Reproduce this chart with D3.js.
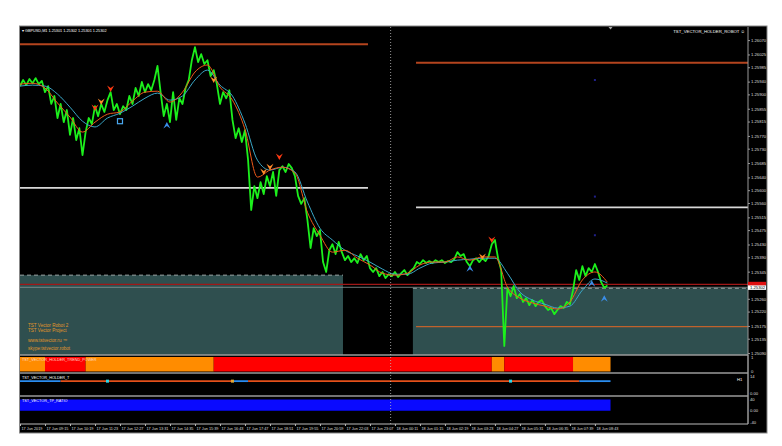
<!DOCTYPE html>
<html><head><meta charset="utf-8">
<script src="https://cdn.jsdelivr.net/npm/d3@7"></script>
<style>
body{margin:0;background:#fff}
svg{display:block}
text{font-family:"Liberation Sans",Arial,sans-serif}
</style>
</head><body>
<svg id="c" width="782" height="446"></svg>
<script>
// ---------------- DATA ----------------
const symbolHeader = "GBPUSD,M1  1.25301 1.25302 1.25301 1.25302";
const robotName = "TST_VECTOR_HOLDER_ROBOT \u263A";
const startTime = "2019-06-17T08:11";
const endTime = "2019-06-18T15:15";
const sampleMinutes = 8;
const closes = [
1.25926,1.25945,1.25929,1.25948,1.25935,1.25951,1.25932,1.25942,1.25907,1.25926,
1.25870,1.25895,1.25826,1.25870,1.25813,1.25851,1.25773,1.25826,1.25757,1.25794,
1.25710,1.25782,1.25826,1.25807,1.25863,1.25832,1.25870,1.25845,1.25882,1.25907,
1.25851,1.25870,1.25838,1.25863,1.25851,1.25895,1.25870,1.25920,1.25895,1.25939,
1.25907,1.25932,1.25913,1.25945,1.25989,1.25907,1.25832,1.25870,1.25813,1.25907,
1.25820,1.25888,1.25870,1.25920,1.25945,1.26007,1.26048,1.26001,1.26026,1.25995,
1.26007,1.25957,1.25976,1.25932,1.25870,1.25907,1.25888,1.25913,1.25820,1.25763,
1.25794,1.25751,1.25788,1.25694,1.25538,1.25613,1.25575,1.25625,1.25588,1.25644,
1.25613,1.25657,1.25582,1.25663,1.25675,1.25657,1.25682,1.25669,1.25644,1.25582,
1.25557,1.25575,1.25506,1.25419,1.25481,1.25456,1.25475,1.25375,1.25344,1.25412,
1.25431,1.25400,1.25438,1.25406,1.25381,1.25394,1.25375,1.25387,1.25372,1.25400,
1.25381,1.25394,1.25356,1.25344,1.25356,1.25331,1.25344,1.25325,1.25337,1.25331,
1.25344,1.25328,1.25340,1.25350,1.25334,1.25347,1.25356,1.25375,1.25369,1.25381,
1.25372,1.25378,1.25372,1.25381,1.25375,1.25381,1.25372,1.25378,1.25375,1.25384,
1.25406,1.25394,1.25400,1.25375,1.25362,1.25381,1.25387,1.25375,1.25387,1.25378,
1.25394,1.25431,1.25444,1.25387,1.25350,1.25112,1.25294,1.25268,1.25300,1.25262,
1.25275,1.25250,1.25262,1.25240,1.25256,1.25237,1.25250,1.25256,1.25237,1.25225,
1.25231,1.25212,1.25225,1.25237,1.25231,1.25250,1.25243,1.25287,1.25350,1.25319,
1.25362,1.25331,1.25356,1.25344,1.25369,1.25344,1.25312,1.25294,1.25302
];
const maMinutes = 32;
const maFast = [
1.25932,1.25935,1.25920,1.25873,1.25829,1.25782,1.25813,1.25838,1.25845,1.25879,
1.25907,1.25910,1.25876,1.25907,1.25970,1.25992,1.25923,1.25882,1.25791,1.25641,
1.25663,1.25672,1.25654,1.25531,1.25459,1.25406,1.25412,1.25387,1.25366,1.25340,
1.25334,1.25340,1.25366,1.25375,1.25375,1.25391,1.25381,1.25391,1.25391,1.25297,
1.25262,1.25247,1.25237,1.25228,1.25250,1.25319,1.25344,1.25312
];
const maSlow = [
1.25926,1.25929,1.25926,1.25901,1.25860,1.25816,1.25798,1.25826,1.25841,1.25863,
1.25888,1.25904,1.25882,1.25895,1.25945,1.25976,1.25929,1.25895,1.25810,1.25694,
1.25663,1.25672,1.25657,1.25563,1.25481,1.25444,1.25412,1.25394,1.25375,1.25353,
1.25337,1.25337,1.25356,1.25372,1.25375,1.25381,1.25384,1.25387,1.25387,1.25340,
1.25281,1.25256,1.25243,1.25231,1.25237,1.25287,1.25322,1.25309
];
const sellIdx = [24, 26, 29, 62, 78, 80, 83, 148, 151];
const sellPrice = [1.25857, 1.25876, 1.25917, 1.25945, 1.25657, 1.25672, 1.25704, 1.25391, 1.25444];
const sellStrong = [1, 0, 1, 0, 0, 0, 1, 0, 1];
const buyIdx = [47, 144, 183, 187];
const buyPrice = [1.25804, 1.25356, 1.25309, 1.25262];
const boxIdx = [32];
const boxPrice = [1.25816];
const dotIdx = [184, 184, 184];
const dotPrice = [1.25945, 1.25580, 1.25459];

const levelPrice = [1.26057, 1.25999, 1.25607, 1.25546, 1.25173];
const levelFrom = ["2019-06-17T08:11","2019-06-18T01:05","2019-06-17T08:11","2019-06-18T01:05","2019-06-18T01:05"];
const levelTo   = ["2019-06-17T23:02","2019-06-18T15:15","2019-06-17T23:02","2019-06-18T15:15","2019-06-18T15:15"];
const levelType = ["res","res","mid","mid","sup"];
const zoneTop  = [1.25334, 1.25293];
const zoneFrom = ["2019-06-17T08:11","2019-06-18T00:57"];
const zoneTo   = ["2019-06-17T21:58","2019-06-18T15:15"];
const askLine = 1.25305;
const bidLine = 1.25296;
const bidPrice = 1.25302;
const daySeparator = "2019-06-18T00:00";

const yTicks = [1.26070,1.26025,1.25985,1.25940,1.25900,1.25855,1.25815,1.25770,1.25730,1.25685,
1.25640,1.25600,1.25560,1.25515,1.25475,1.25430,1.25390,1.25345,1.25260,1.25220,1.25175,1.25135,1.25090];
const xTickTimes = ["2019-06-17T08:11","2019-06-17T09:15","2019-06-17T10:19","2019-06-17T11:23","2019-06-17T12:27",
"2019-06-17T13:31","2019-06-17T14:35","2019-06-17T15:39","2019-06-17T16:43","2019-06-17T17:47","2019-06-17T18:51",
"2019-06-17T19:55","2019-06-17T20:59","2019-06-17T22:03","2019-06-17T23:07","2019-06-18T00:11","2019-06-18T01:15",
"2019-06-18T02:19","2019-06-18T03:23","2019-06-18T04:27","2019-06-18T05:31","2019-06-18T06:35","2019-06-18T07:39","2019-06-18T08:43"];
const xTickLabels = ["17 Jun 2019","17 Jun 09:15","17 Jun 10:19","17 Jun 11:23","17 Jun 12:27","17 Jun 13:31",
"17 Jun 14:35","17 Jun 15:39","17 Jun 16:43","17 Jun 17:47","17 Jun 18:51","17 Jun 19:55","17 Jun 20:59",
"17 Jun 22:03","17 Jun 23:07","18 Jun 00:11","18 Jun 01:15","18 Jun 02:19","18 Jun 03:23","18 Jun 04:27",
"18 Jun 05:31","18 Jun 06:35","18 Jun 07:39","18 Jun 08:43"];
const infoLines = ["TST Vector Robot 2", "TST Vector Project", "www.tstvector.ru \u2122", "skype:tstvector.robot"];

// indicator panels
const trendName = "TST_VECTOR_HOLDER_TREND_POWER";
const trendBounds = [0, 8, 21, 62, 151, 155, 177, 189];
const trendState  = ["up","down","up","down","up","down","up"];
const trendValue = 1;
const trendTicks = [1, 0];
const holderName = "TST_VECTOR_HOLDER_T";
const holderBounds = [0, 13, 68, 73, 179, 189];
const holderState  = ["buy","sell","buy","sell","buy"];
const holderValue = 10;
const holderMarkIdx = [28, 68, 157];
const holderMarkType = ["buy","hold","buy"];
const holderTicks = ["14", "0.00"];
const holderTf = "H1";
const ratioName = "TST_VECTOR_TP_RATIO";
const ratioValue = 40;
const ratioTicks = [40, 0, -40];

// ---------------- DRAW ----------------
const svg = d3.select("#c");
const parse = s => new Date(s);
const t0 = parse(startTime);
const tAt = i => new Date(t0.getTime() + i * sampleMinutes * 60000);
const tMa = j => new Date(t0.getTime() + j * maMinutes * 60000);

const X0 = 20, X1 = 748, AX1 = 767;
const P = {top: 27, main: 355, p1: 373, p2: 396, p3: 424, bottom: 433};

const x = d3.scaleTime().domain([t0, parse(endTime)]).range([X0, X1]);
const y = d3.scaleLinear().domain([1.25084, 1.26111]).range([P.main, P.top]);
const yTrend = d3.scaleLinear().domain([0, 1]).range([371.5, 357]);
const yHold = d3.scaleLinear().domain([0, 14]).range([394, 376]);
const yRatio = d3.scaleLinear().domain([-40, 40]).range([422, 399.5]);

const fs = 4.2;

svg.append("rect").attr("x", 19.5).attr("y", 26).attr("width", AX1 - 19.5).attr("height", P.bottom - 26)
  .attr("fill", "#000").attr("stroke", "#888").attr("stroke-width", 1);

const main = svg.append("g");
main.append("clipPath").attr("id","mc").append("rect").attr("x",X0).attr("y",P.top).attr("width",X1-X0).attr("height",P.main-P.top);
const mg = main.append("g").attr("clip-path","url(#mc)");

// zones
mg.selectAll("rect.zone").data(zoneTop).join("rect").attr("class","zone")
  .attr("x",(d,i)=>x(parse(zoneFrom[i]))).attr("width",(d,i)=>x(parse(zoneTo[i]))-x(parse(zoneFrom[i])))
  .attr("y",d=>y(d)).attr("height",d=>P.main-y(d)).attr("fill","#2f4f4f");
mg.selectAll("line.ztop").data(zoneTop).join("line")
  .attr("x1",(d,i)=>x(parse(zoneFrom[i]))).attr("x2",(d,i)=>x(parse(zoneTo[i])))
  .attr("y1",d=>y(d)).attr("y2",d=>y(d)).attr("stroke","#9aa6a6").attr("stroke-width",1).attr("stroke-dasharray","4,3");

// levels
const levelStyle = {res:"#b4441e", mid:"#d8d8d8", sup:"#c0622c"};
mg.selectAll("line.lvl").data(levelPrice).join("line")
  .attr("x1",(d,i)=>x(parse(levelFrom[i]))).attr("x2",(d,i)=>x(parse(levelTo[i])))
  .attr("y1",d=>y(d)).attr("y2",d=>y(d))
  .attr("stroke",(d,i)=>levelStyle[levelType[i]]).attr("stroke-width",(d,i)=>levelType[i]==="sup"?1.3:1.8);

// ask / bid
mg.append("line").attr("x1",X0).attr("x2",X1).attr("y1",y(askLine)).attr("y2",y(askLine)).attr("stroke","#a01818").attr("stroke-width",1.4);
mg.append("line").attr("x1",X0).attr("x2",X1).attr("y1",y(bidLine)).attr("y2",y(bidLine)).attr("stroke","#8a9898").attr("stroke-width",0.8);

// info text
mg.selectAll("text.info").data(infoLines).join("text")
  .attr("x",28).attr("y",(d,i)=>[326.5,331.8,341.5,350][i]).attr("fill","#e0962a")
  .attr("font-size",4.6).attr("font-family","'Liberation Serif',serif").text(d=>d);

// price line
mg.append("path").datum(closes)
  .attr("d", d3.line().x((d,i)=>x(tAt(i))).y(d=>y(d)))
  .attr("fill","none").attr("stroke","#1cf01c").attr("stroke-width",1.8).attr("stroke-linejoin","round");
// MAs
mg.append("path").datum(maSlow).attr("d", d3.line().curve(d3.curveMonotoneX).x((d,j)=>x(tMa(j))).y(d=>y(d)))
  .attr("fill","none").attr("stroke","#3aa8c8").attr("stroke-width",1);
mg.append("path").datum(maFast).attr("d", d3.line().curve(d3.curveMonotoneX).x((d,j)=>x(tMa(j))).y(d=>y(d)))
  .attr("fill","none").attr("stroke","#f05a1a").attr("stroke-width",1);

// signals
mg.selectAll("path.sell").data(sellPrice).join("path")
  .attr("transform",(d,i)=>`translate(${x(tAt(sellIdx[i]))},${y(d)})`)
  .attr("d","M-3.5,-3.5 L0,3 L3.5,-3.5 L0,-1 Z")
  .attr("fill",(d,i)=>sellStrong[i]?"#ff3a12":"#ff8a2a");
mg.selectAll("path.buy").data(buyPrice).join("path")
  .attr("transform",(d,i)=>`translate(${x(tAt(buyIdx[i]))},${y(d)})`)
  .attr("d","M-3.5,3.5 L0,-3 L3.5,3.5 L0,1 Z").attr("fill","#3a8ee8");
mg.selectAll("rect.box").data(boxPrice).join("rect")
  .attr("x",(d,i)=>x(tAt(boxIdx[i]))-2.5).attr("y",d=>y(d)-2.5).attr("width",5).attr("height",5)
  .attr("fill","none").attr("stroke","#4aa8f0").attr("stroke-width",1.2);
mg.selectAll("rect.dot").data(dotPrice).join("rect")
  .attr("x",(d,i)=>x(tAt(dotIdx[i]))-1).attr("y",d=>y(d)-1).attr("width",2).attr("height",2).attr("fill","#20208a");

// header texts
svg.append("text").attr("x",22).attr("y",31.5).attr("fill","#fff").attr("font-size",3.8).text("\u25BE " + symbolHeader);
svg.append("text").attr("x",745).attr("y",33).attr("text-anchor","end").attr("fill","#fff").attr("font-size",4.3).text(robotName);
svg.append("path").attr("d",`M${x(tAt(189))-2},27 L${x(tAt(189))+2},27 L${x(tAt(189))},29.5 Z`).attr("fill","#aaa");

// main y axis
const ya = svg.append("g").attr("transform",`translate(${X1},0)`)
  .call(d3.axisRight(y).tickValues(yTicks).tickFormat(d3.format(".5f")).tickSize(2));
ya.select(".domain").attr("stroke","#999");
ya.selectAll("line").attr("stroke","#999");
ya.selectAll("text").attr("fill","#ddd").attr("font-size",fs).attr("x",3);
ya.select(".domain").attr("d",`M0,${P.top}V${P.p3}`);

// price labels
svg.append("rect").attr("x",X1).attr("y",y(askLine)-2.6).attr("width",18).attr("height",4).attr("fill","#e01010");
svg.append("rect").attr("x",X1).attr("y",y(bidPrice)).attr("width",18).attr("height",4.5).attr("fill","#fff");
svg.append("text").attr("x",X1+2).attr("y",y(bidPrice)+3.8).attr("fill","#000").attr("font-size",fs).text(d3.format(".5f")(bidPrice));

// panel separators
[P.main, P.p1, P.p2].forEach(v=>{
  svg.append("line").attr("x1",X0).attr("x2",X1).attr("y1",v).attr("y2",v).attr("stroke","#9a9a9a").attr("stroke-width",1.5);
});
svg.append("line").attr("x1",X0).attr("x2",X1).attr("y1",P.p3).attr("y2",P.p3).attr("stroke","#bbb").attr("stroke-width",1);

// trend power panel
const trendColor = {up:"#ff8c00", down:"#ff0000"};
svg.selectAll("rect.tr").data(trendState).join("rect")
  .attr("x",(d,i)=>x(tAt(trendBounds[i]))).attr("width",(d,i)=>x(tAt(trendBounds[i+1]))-x(tAt(trendBounds[i])))
  .attr("y",yTrend(trendValue)).attr("height",yTrend(0)-yTrend(trendValue)).attr("fill",d=>trendColor[d]);
svg.append("text").attr("x",22).attr("y",360.5).attr("fill","#ffd8c8").attr("font-size",3.8).text(trendName);
svg.selectAll("text.tt").data(trendTicks).join("text").attr("x",X1+3).attr("y",d=>yTrend(d)+1.5)
  .attr("fill","#ddd").attr("font-size",fs).text(d=>d);

// holder T panel
const holdColor = {buy:"#2a8cf0", sell:"#e5501a"};
svg.selectAll("line.ht").data(holderState).join("line")
  .attr("x1",(d,i)=>x(tAt(holderBounds[i]))).attr("x2",(d,i)=>x(tAt(holderBounds[i+1])))
  .attr("y1",yHold(holderValue)).attr("y2",yHold(holderValue)).attr("stroke",d=>holdColor[d]).attr("stroke-width",1.8);
const markColor = {buy:"#30d8e8", hold:"#e0a838"};
svg.selectAll("rect.hm").data(holderMarkIdx).join("rect")
  .attr("x",d=>x(tAt(d))-1.5).attr("y",yHold(holderValue)-1.5).attr("width",3).attr("height",3)
  .attr("fill",(d,i)=>markColor[holderMarkType[i]]);
svg.append("text").attr("x",22).attr("y",378.5).attr("fill","#fff").attr("font-size",3.8).text(holderName);
svg.append("text").attr("x",737).attr("y",381).attr("fill","#fff").attr("font-size",fs).text(holderTf);
svg.selectAll("text.hk").data(holderTicks).join("text").attr("x",X1+2).attr("y",(d,i)=>[377.5,395][i])
  .attr("fill","#ddd").attr("font-size",fs).text(d=>d);

// TP ratio panel
svg.append("rect").attr("x",x(tAt(0))).attr("width",x(tAt(189))-x(tAt(0)))
  .attr("y",yRatio(ratioValue)).attr("height",yRatio(0)-yRatio(ratioValue)).attr("fill","#0a0aff");
svg.append("text").attr("x",22).attr("y",401.5).attr("fill","#fff").attr("font-size",3.8).text(ratioName);
svg.selectAll("text.rk").data(ratioTicks).join("text").attr("x",X1+2).attr("y",d=>yRatio(d)+1.5)
  .attr("fill","#ddd").attr("font-size",fs).text(d=>d===0?"0.00":d);
svg.append("line").attr("x1",X1).attr("x2",X1).attr("y1",P.main).attr("y2",P.p3).attr("stroke","#999");

// day separator
svg.append("line").attr("x1",x(parse(daySeparator))).attr("x2",x(parse(daySeparator)))
  .attr("y1",P.top).attr("y2",P.p3).attr("stroke","#bbb").attr("stroke-width",0.8).attr("stroke-dasharray","1,2");

// x axis
const xa = svg.append("g").attr("transform",`translate(0,${P.p3})`)
  .call(d3.axisBottom(x).tickValues(xTickTimes.map(parse)).tickFormat((d,i)=>xTickLabels[i]).tickSize(2));
xa.select(".domain").remove();
xa.selectAll("line").attr("stroke","#bbb");
xa.selectAll("text").attr("fill","#ddd").attr("font-size",3.8).attr("text-anchor","start").attr("dx",1).attr("y",3).attr("dy","0.71em");
</script>
</body></html>
